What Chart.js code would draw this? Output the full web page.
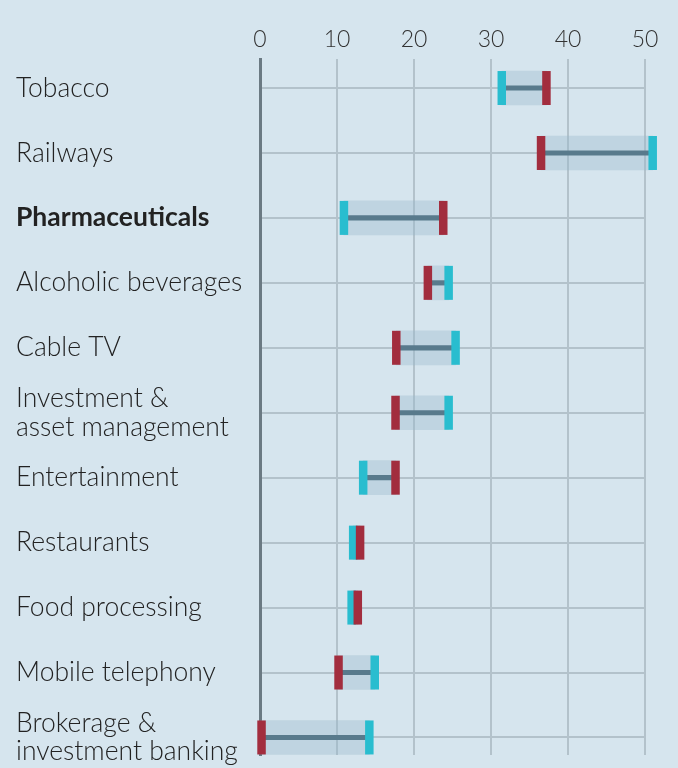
<!DOCTYPE html>
<html>
<head>
<meta charset="utf-8">
<script src="https://cdn.jsdelivr.net/npm/chart.js@4/dist/chart.umd.min.js"></script>
<style>
  html, body { margin: 0; padding: 0; background: #d6e5ee; }
  #wrap { width: 678px; height: 768px; position: relative; }
</style>
</head>
<body>
<div id="wrap"><canvas id="c" width="678" height="768"></canvas></div>
<script>
// ---- data ----
const industries = [
  "Tobacco", "Railways", "Pharmaceuticals", "Alcoholic beverages", "Cable TV",
  ["Investment &", "asset management"], "Entertainment", "Restaurants",
  "Food processing", "Mobile telephony", ["Brokerage &", "investment banking"]
];
const cyanValues = [31.4, 51.0, 10.9, 24.5, 25.4, 24.5, 13.4, 12.1, 11.9, 14.9, 14.2];
const redValues  = [37.2, 36.5, 23.8, 21.8, 17.7, 17.6, 17.6, 13.0, 12.7, 10.2, 0.2];
const xTicks = [0, 10, 20, 30, 40, 50];
const boldIndex = 2;

// ---- build datasets ----
const band = industries.map((_, i) => ({ x: [Math.min(cyanValues[i], redValues[i]), Math.max(cyanValues[i], redValues[i])], y: i }));
const cyanPts = cyanValues.map((v, i) => ({ x: v, y: i }));
const redPts = redValues.map((v, i) => ({ x: v, y: i }));

const capStyle = (color) => ({
  type: 'line', showLine: false, pointStyle: 'line', rotation: 90,
  pointRadius: 17, pointHoverRadius: 17, pointBorderWidth: 8.5, pointHoverBorderWidth: 8.5,
  borderColor: color, backgroundColor: color, clip: false
});

const FONT = "Lato, 'Open Sans', sans-serif";

new Chart(document.getElementById('c'), {
  type: 'bar',
  data: {
    datasets: [
      { data: band, backgroundColor: 'rgba(150,182,202,0.36)', barThickness: 34, grouped: false, order: 4, clip: false },
      { data: band, backgroundColor: '#587a8c', barThickness: 4.5, grouped: false, order: 3, clip: false },
      Object.assign({ data: cyanPts, order: 2 }, capStyle('#29bdcf')),
      Object.assign({ data: redPts, order: 1 }, capStyle('#a22d3e'))
    ]
  },
  options: {
    indexAxis: 'y',
    responsive: false,
    animation: false,
    events: [],
    layout: { autoPadding: false, padding: { left: 16, right: 33, top: 0, bottom: 13 } },
    plugins: { legend: { display: false }, tooltip: { enabled: false } },
    scales: {
      x: {
        type: 'linear', position: 'top', min: 0, max: 50,
        afterBuildTicks: (s) => { s.ticks = xTicks.map(v => ({ value: v })); },
        afterFit: (s) => { s.height = 59; s.paddingLeft = 0; s.paddingRight = 0; },
        grid: { color: '#b3c2cb', lineWidth: 2, drawTicks: false },
        border: { display: false },
        ticks: { padding: 6, color: '#333', font: { family: FONT, size: 23, weight: '300' } }
      },
      y: {
        type: 'linear', reverse: true, min: -0.447, max: 10.27, offset: false,
        afterBuildTicks: (s) => { s.ticks = industries.map((_, i) => ({ value: i })); },
        afterFit: (s) => { s.width = 244; s.paddingTop = 0; s.paddingBottom = 0; },
        grid: { color: '#b3c2cb', lineWidth: 2, drawTicks: false, offset: false },
        border: { display: true, color: '#6b7a83', width: 3 },
        ticks: {
          crossAlign: 'far', padding: 0, color: '#222',
          callback: (v) => industries[v],
          font: (ctx) => ({ family: FONT, size: 26.5, lineHeight: 1.08, weight: (ctx.index === boldIndex) ? 'bold' : '300' })
        }
      }
    }
  }
});
</script>
</body>
</html>
